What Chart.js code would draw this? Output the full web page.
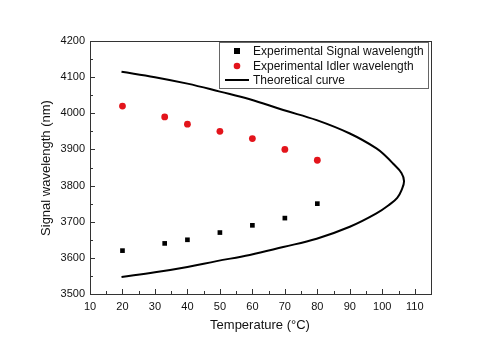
<!DOCTYPE html>
<html><head><meta charset="utf-8">
<script src="https://cdn.jsdelivr.net/npm/chart.js@4"></script>
<style>html,body{margin:0;padding:0;background:#fff}#w{width:500px;height:353px}</style>
</head><body><div id="w"><canvas id="c" width="500" height="353"></canvas></div>
<script>
const temps = [20, 33, 40, 50, 60, 70, 80];
const signalWl = [3620, 3640, 3650, 3670, 3690, 3710, 3750];
const idlerWl = [4020, 3990, 3970, 3950, 3930, 3900, 3870];
const curveT = [19.7, 30, 40, 49, 59.2, 69.5, 79.8, 90, 98.2, 102.3, 104.6, 105.9, 106.7, 105.9, 103.3, 101.1, 98.2, 90, 79.8, 69.5, 59.2, 50, 40, 30, 19.7];
const curveW = [3547, 3560, 3575, 3591, 3608, 3630, 3653, 3686, 3723, 3748, 3766, 3787, 3812, 3835, 3861, 3881, 3903, 3944, 3981, 4009, 4039, 4060, 4082, 4100, 4115];
const xTicks = [10, 20, 30, 40, 50, 60, 70, 80, 90, 100, 110];
const yTicks = [3500, 3600, 3700, 3800, 3900, 4000, 4100, 4200];
const labels = ["Experimental Signal wavelength", "Experimental Idler wavelength", "Theoretical curve"];
const xTitle = "Temperature (°C)";
const yTitle = "Signal wavelength (nm)";

const FONT = '"Liberation Sans", Arial, sans-serif';
const pts = (xs, ys) => xs.map((x, i) => ({x, y: ys[i]}));

const framePlugin = {
  id: 'frame',
  afterDraw(chart) {
    const ctx = chart.ctx, a = chart.chartArea;
    const xs = chart.scales.x, ys = chart.scales.y;
    ctx.save();
    ctx.strokeStyle = '#333'; ctx.lineWidth = 1;
    ctx.strokeRect(Math.round(a.left)+0.5, Math.round(a.top)+0.5, Math.round(a.right-a.left), Math.round(a.bottom-a.top));
    ctx.beginPath();
    for (let v = 10; v <= 115; v += 5) {
      const px = Math.round(xs.getPixelForValue(v)) + 0.5;
      const len = (v % 10 === 0) ? 5 : 3;
      ctx.moveTo(px, a.bottom); ctx.lineTo(px, a.bottom - len);
    }
    for (let v = 3500; v <= 4200; v += 50) {
      const py = Math.round(ys.getPixelForValue(v)) + 0.5;
      const len = (v % 100 === 0) ? 5 : 3;
      ctx.moveTo(a.left, py); ctx.lineTo(a.left + len, py);
    }
    ctx.stroke();
    ctx.fillStyle = '#111';
    ctx.font = '13px ' + FONT;
    ctx.textAlign = 'center'; ctx.textBaseline = 'middle';
    ctx.fillText(xTitle, 260, 325);
    ctx.save();
    ctx.translate(46, 168); ctx.rotate(-Math.PI/2);
    ctx.fillText(yTitle, 0, 0);
    ctx.restore();
    ctx.fillStyle = '#fff';
    ctx.fillRect(219, 42, 209, 46);
    ctx.strokeStyle = '#666';
    ctx.strokeRect(219.5, 42.5, 209, 46);
    ctx.font = '12px ' + FONT;
    ctx.textAlign = 'left';
    const rows = [51, 66, 80];
    ctx.fillStyle = '#000';
    ctx.fillRect(234, rows[0]-3, 6, 6);
    ctx.fillStyle = '#e3141b';
    ctx.beginPath(); ctx.arc(237, rows[1], 3.3, 0, Math.PI*2); ctx.fill();
    ctx.strokeStyle = '#000'; ctx.lineWidth = 2;
    ctx.beginPath(); ctx.moveTo(225, rows[2]); ctx.lineTo(249, rows[2]); ctx.stroke();
    ctx.fillStyle = '#111';
    labels.forEach((t, i) => ctx.fillText(t, 253, rows[i]+0.5));
    ctx.restore();
  }
};

new Chart(document.getElementById('c'), {
  type: 'scatter',
  data: {
    datasets: [
      {label: labels[0], data: pts(temps, signalWl), pointStyle: 'rect', pointRadius: 3.3, backgroundColor: '#000', borderColor: '#000', borderWidth: 0},
      {label: labels[1], data: pts(temps, idlerWl), pointStyle: 'circle', pointRadius: 3.4, backgroundColor: '#e3141b', borderColor: '#e3141b', borderWidth: 0},
      {label: labels[2], data: pts(curveT, curveW), showLine: true, pointRadius: 0, borderColor: '#000', borderWidth: 2, tension: 0.4, fill: false}
    ]
  },
  options: {
    responsive: false, animation: false, devicePixelRatio: 1,
    layout: {padding: {top: 41, right: 69, left: 0, bottom: 0}},
    plugins: {legend: {display: false}, tooltip: {enabled: false}},
    scales: {
      x: {
        type: 'linear', min: 10, max: 115,
        afterFit(s) { s.height = 59; },
        afterBuildTicks(s) { s.ticks = xTicks.map(v => ({value: v})); },
        grid: {display: false, drawTicks: false},
        border: {display: false},
        ticks: {padding: 6, color: '#111', font: {family: FONT, size: 11}, maxRotation: 0, callback: v => String(v)}
      },
      y: {
        type: 'linear', min: 3500, max: 4200,
        afterFit(s) { s.width = 90; },
        afterBuildTicks(s) { s.ticks = yTicks.map(v => ({value: v})); },
        grid: {display: false, drawTicks: false},
        border: {display: false},
        ticks: {padding: 5, color: '#111', font: {family: FONT, size: 11}, callback: v => String(v)}
      }
    }
  },
  plugins: [framePlugin]
});
</script></body></html>
